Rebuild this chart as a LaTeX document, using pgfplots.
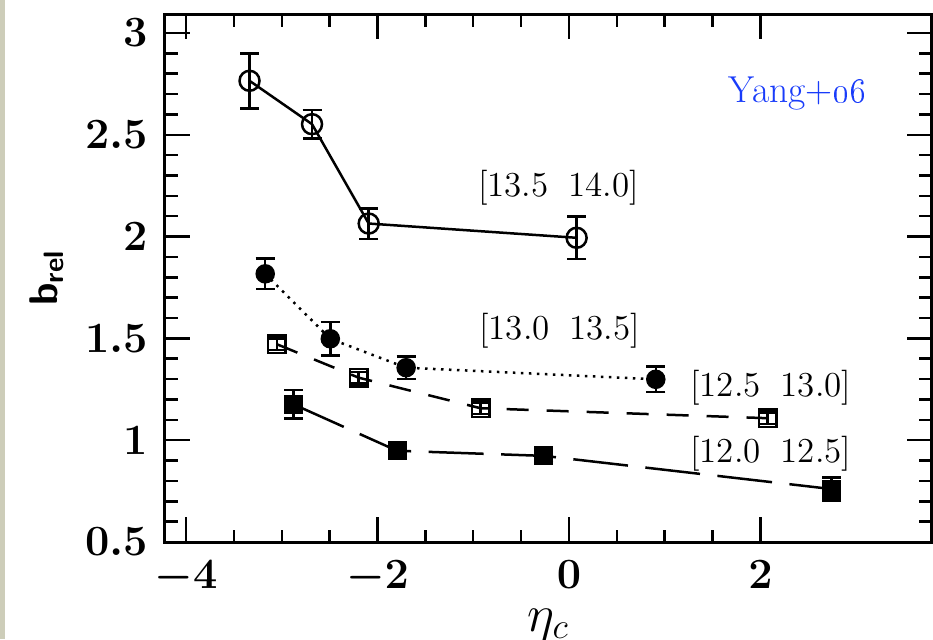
\documentclass[border=0pt]{standalone}
\usepackage{pgfplots}
\pgfplotsset{compat=1.18}
\definecolor{yangblue}{RGB}{25,60,250}
\definecolor{edgebeige}{RGB}{205,205,185}

\begin{document}
\begin{tikzpicture}
\path[use as bounding box] (0,0) rectangle (373.2pt,255.6pt);
\fill[edgebeige] (0,0) rectangle (2pt,255.6pt);
\begin{axis}[
    at={(66pt,38.8pt)}, anchor=south west,
    scale only axis, width=306.7pt, height=211.2pt,
    xmin=-4.22, xmax=3.79, ymin=0.5, ymax=3.093,
    xtick={-4,-2,0,2}, ytick={0.5,1,1.5,2,2.5,3},
    minor x tick num=3, minor y tick num=4,
    tick align=inside, major tick length=10pt, minor tick length=5pt,
    axis line style={line width=1.2pt},
    every tick/.style={black, line width=1pt},
    tick label style={font=\fontsize{16}{16}\selectfont\boldmath},
    yticklabel style={xshift=-3.5pt},
    xticklabel style={yshift=-4pt},
    xlabel={$\eta_c$},
    xlabel style={at={(axis description cs:0.5,-0.1686)}, anchor=base, font=\fontsize{20}{20}\selectfont},
    ylabel={\textsf{\textbf{b}}\textsubscript{\textsf{\textbf{rel}}}},
    ylabel style={at={(axis description cs:-0.154,0.5)}, anchor=center, font=\fontsize{16}{16}\selectfont},
    error bars/y dir=both, error bars/y explicit,
    error bars/error bar style={solid, line width=1pt},
    error bars/error mark options={solid, rotate=90, mark size=3.8pt, line width=1pt},
]
% [13.5 14.0]
\addplot[black, line width=1pt, mark=o, mark size=4pt, mark options={solid}]
coordinates {(-3.337,2.765) +- (0,0.135) (-2.684,2.552) +- (0,0.07)
             (-2.092,2.064) +- (0,0.075) (0.080,1.994) +- (0,0.105)};
% [13.0 13.5]
\addplot[black, line width=1pt, dash pattern=on 1pt off 2.2pt, mark=*, mark size=3.4pt, mark options={solid}]
coordinates {(-3.173,1.817) +- (0,0.075) (-2.493,1.498) +- (0,0.083)
             (-1.701,1.356) +- (0,0.055) (0.907,1.299) +- (0,0.063)};
% [12.5 13.0]
\addplot[black, line width=1pt, dash pattern=on 8.8pt off 7.2pt, mark=square, mark size=3.5pt, mark options={solid}]
coordinates {(-3.050,1.471) +- (0,0.028) (-2.197,1.307) +- (0,0.028)
             (-0.924,1.157) +- (0,0.028) (2.075,1.108) +- (0,0.028)};
% [12.0 12.5]
\addplot[black, line width=1pt, dash pattern=on 22pt off 7pt, mark=square*, mark size=3.3pt, mark options={solid}]
coordinates {(-2.877,1.176) +- (0,0.07) (-1.795,0.948) +- (0,0.022)
             (-0.262,0.923) +- (0,0.025) (2.745,0.760) +- (0,0.057)};

\node[font=\fontsize{14}{14}\selectfont, inner sep=0pt] at (axis cs:-0.108,2.240) {[13.5\hspace{8pt}14.0]};
\node[font=\fontsize{14}{14}\selectfont, inner sep=0pt] at (axis cs:-0.097,1.539) {[13.0\hspace{8pt}13.5]};
\node[font=\fontsize{14}{14}\selectfont, inner sep=0pt] at (axis cs:2.108,1.260) {[12.5\hspace{8pt}13.0]};
\node[font=\fontsize{14}{14}\selectfont, inner sep=0pt] at (axis cs:2.108,0.931) {[12.0\hspace{8pt}12.5]};
\node[font=\fontsize{15}{15}\selectfont, text=yangblue, inner sep=0pt, anchor=base] at (axis cs:2.392,2.657) {Yang+\oldstylenums{06}};
\end{axis}
\end{tikzpicture}
\end{document}
